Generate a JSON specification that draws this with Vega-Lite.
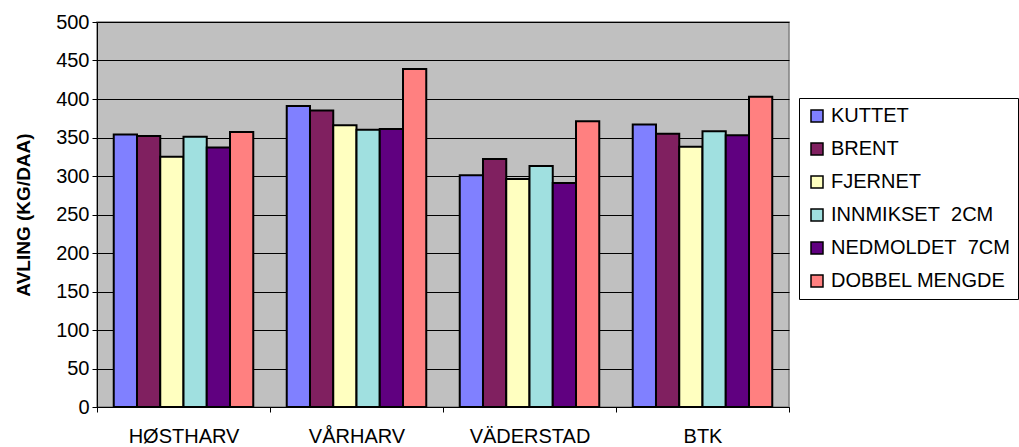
{
  "$schema": "https://vega.github.io/schema/vega-lite/v6.json",
  "autosize": "none",
  "padding": {"left": 97, "top": 22, "right": 230, "bottom": 40},
  "width": 692,
  "height": 385,
  "background": "white",
  "config": {
    "font": "Liberation Sans",
    "view": {"fill": "#C0C0C0", "stroke": "#808080", "strokeWidth": 1.5}
  },
  "data": {
    "values": [
      {"metode": "HØSTHARV", "behandling": "KUTTET", "avling": 354},
      {"metode": "HØSTHARV", "behandling": "BRENT", "avling": 352},
      {"metode": "HØSTHARV", "behandling": "FJERNET", "avling": 325},
      {"metode": "HØSTHARV", "behandling": "INNMIKSET\u00a0 2CM", "avling": 351},
      {"metode": "HØSTHARV", "behandling": "NEDMOLDET\u00a0 7CM", "avling": 337},
      {"metode": "HØSTHARV", "behandling": "DOBBEL MENGDE", "avling": 357},
      {"metode": "VÅRHARV", "behandling": "KUTTET", "avling": 391},
      {"metode": "VÅRHARV", "behandling": "BRENT", "avling": 385},
      {"metode": "VÅRHARV", "behandling": "FJERNET", "avling": 366},
      {"metode": "VÅRHARV", "behandling": "INNMIKSET\u00a0 2CM", "avling": 360},
      {"metode": "VÅRHARV", "behandling": "NEDMOLDET\u00a0 7CM", "avling": 361},
      {"metode": "VÅRHARV", "behandling": "DOBBEL MENGDE", "avling": 439},
      {"metode": "VÄDERSTAD", "behandling": "KUTTET", "avling": 301},
      {"metode": "VÄDERSTAD", "behandling": "BRENT", "avling": 322},
      {"metode": "VÄDERSTAD", "behandling": "FJERNET", "avling": 296},
      {"metode": "VÄDERSTAD", "behandling": "INNMIKSET\u00a0 2CM", "avling": 313},
      {"metode": "VÄDERSTAD", "behandling": "NEDMOLDET\u00a0 7CM", "avling": 291},
      {"metode": "VÄDERSTAD", "behandling": "DOBBEL MENGDE", "avling": 371},
      {"metode": "BTK", "behandling": "KUTTET", "avling": 367},
      {"metode": "BTK", "behandling": "BRENT", "avling": 355},
      {"metode": "BTK", "behandling": "FJERNET", "avling": 338},
      {"metode": "BTK", "behandling": "INNMIKSET\u00a0 2CM", "avling": 358},
      {"metode": "BTK", "behandling": "NEDMOLDET\u00a0 7CM", "avling": 353},
      {"metode": "BTK", "behandling": "DOBBEL MENGDE", "avling": 403}
    ]
  },
  "mark": {"type": "bar", "stroke": "black", "strokeWidth": 2, "opacity": 1},
  "encoding": {
    "x": {
      "field": "metode",
      "type": "nominal",
      "sort": ["HØSTHARV", "VÅRHARV", "VÄDERSTAD", "BTK"],
      "scale": {"paddingInner": 0, "paddingOuter": 0},
      "axis": {
        "title": null,
        "labelAngle": 0,
        "tickBand": "extent",
        "domainColor": "black",
        "tickColor": "black",
        "tickSize": 5,
        "labelFontSize": 20,
        "labelColor": "black",
        "labelPadding": 14,
        "grid": false
      }
    },
    "xOffset": {
      "field": "behandling",
      "type": "nominal",
      "sort": ["KUTTET", "BRENT", "FJERNET", "INNMIKSET\u00a0 2CM", "NEDMOLDET\u00a0 7CM", "DOBBEL MENGDE"],
      "scale": {"paddingInner": 0, "paddingOuter": 0.72}
    },
    "y": {
      "field": "avling",
      "type": "quantitative",
      "scale": {"domain": [0, 500], "nice": false},
      "axis": {
        "title": "AVLING (KG/DAA)",
        "values": [0, 50, 100, 150, 200, 250, 300, 350, 400, 450, 500],
        "grid": true,
        "gridColor": "black",
        "gridOpacity": 1,
        "gridWidth": 1,
        "domainColor": "black",
        "tickColor": "black",
        "tickSize": 5,
        "labelFontSize": 20,
        "labelColor": "black",
        "labelPadding": 3,
        "titleFontSize": 19,
        "titleFontWeight": "bold",
        "titleColor": "black",
        "titlePadding": 22
      }
    },
    "color": {
      "field": "behandling",
      "type": "nominal",
      "sort": ["KUTTET", "BRENT", "FJERNET", "INNMIKSET\u00a0 2CM", "NEDMOLDET\u00a0 7CM", "DOBBEL MENGDE"],
      "scale": {
        "domain": ["KUTTET", "BRENT", "FJERNET", "INNMIKSET\u00a0 2CM", "NEDMOLDET\u00a0 7CM", "DOBBEL MENGDE"],
        "range": ["#8080FF", "#802060", "#FFFFC0", "#A0E0E0", "#600080", "#FF8080"]
      },
      "legend": {
        "title": null,
        "orient": "none",
        "legendX": 702,
        "legendY": 76,
        "symbolType": "square",
        "symbolSize": 144,
        "symbolStrokeColor": "black",
        "symbolStrokeWidth": 1.5,
        "symbolOpacity": 1,
        "labelFontSize": 20,
        "labelColor": "black",
        "labelLimit": 0,
        "labelOffset": 4,
        "rowPadding": 13,
        "padding": 8,
        "strokeColor": "black",
        "fillColor": "white"
      }
    }
  }
}
